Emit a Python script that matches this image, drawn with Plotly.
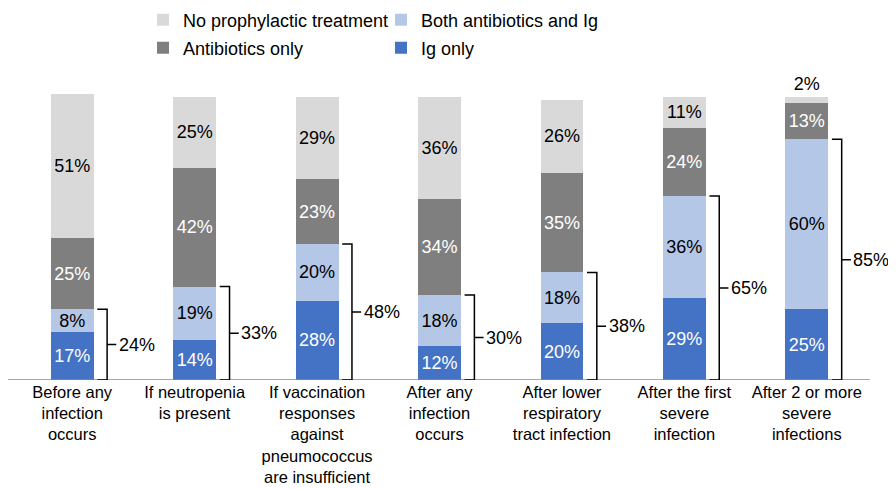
import plotly.graph_objects as go

categories = [
    "Before any<br>infection<br>occurs",
    "If neutropenia<br>is present",
    "If vaccination<br>responses<br>against<br>pneumococcus<br>are insufficient",
    "After any<br>infection<br>occurs",
    "After lower<br>respiratory<br>tract infection",
    "After the first<br>severe<br>infection",
    "After 2 or more<br>severe<br>infections",
]
ig_only = [17, 14, 28, 12, 20, 29, 25]
both = [8, 19, 20, 18, 18, 36, 60]
antibiotics_only = [25, 42, 23, 34, 35, 24, 13]
no_prophylactic = [51, 25, 29, 36, 26, 11, 2]
bracket_labels = [24, 33, 48, 30, 38, 65, 85]

FONT = "Liberation Sans, Arial, sans-serif"
W, H = 896, 489
OFF = 8  # page body margin offset
xs = list(range(len(categories)))

fig = go.Figure()

def add(name, vals, color, tcolor, legend, rank, positions=None):
    fig.add_trace(go.Bar(
        x=xs, y=vals, name=name, marker=dict(color=color, line=dict(width=0)),
        text=[f"{v}%" for v in vals],
        textposition=positions if positions else "inside",
        insidetextanchor="middle", constraintext="none",
        textfont=dict(color=tcolor, size=18, family=FONT),
        outsidetextfont=dict(color="black", size=18, family=FONT),
        cliponaxis=False, legend=legend, legendrank=rank,
    ))

add("Ig only", ig_only, "#4472C4", "white", "legend2", 2)
add("Both antibiotics and Ig", both, "#B4C7E7", "black", "legend", 2)
add("Antibiotics only", antibiotics_only, "#7F7F7F", "white", "legend2", 1)
pos = ["inside"] * (len(xs) - 1) + ["outside"]
add("No prophylactic treatment", no_prophylactic, "#D9D9D9", "black", "legend", 1, pos)

ml, mr, mt, mb = 11 - OFF, 28 + OFF, 94 - OFF, 109 + OFF
pw = W - ml - mr

shapes = [dict(type="line", xref="paper", yref="y", x0=-ml / pw, x1=1.002, y0=0, y1=0,
               line=dict(color="#888888", width=1.5))]
annotations = []
for i, (a, b, lab) in enumerate(zip(ig_only, both, bracket_labels)):
    top = a + b
    mid = top / 2
    xv = i + 0.285
    xl = i + 0.205
    xr = i + 0.36
    path = (f"M {xl},{top} L {xv},{top} L {xv},{mid} L {xr},{mid} "
            f"M {xv},{mid} L {xv},0 L {xl},0")
    shapes.append(dict(type="path", xref="x", yref="y", path=path,
                       line=dict(color="black", width=1.5)))
    annotations.append(dict(x=xr + 0.005, y=mid, xref="x", yref="y", text=f"{lab}%",
                            showarrow=False, xanchor="left", yanchor="middle",
                            font=dict(size=18, color="black", family=FONT)))

legend_common = dict(orientation="h", xref="container", yref="container",
                     xanchor="left", yanchor="middle", traceorder="normal",
                     entrywidth=193, entrywidthmode="pixels", itemwidth=30,
                     font=dict(size=18, family=FONT, color="black"),
                     bgcolor="rgba(0,0,0,0)")
lx = (159 - OFF - 16) / W

fig.update_layout(
    barmode="stack",
    bargap=0.65,
    width=W, height=H,
    margin=dict(l=ml, r=mr, t=mt, b=mb),
    paper_bgcolor="white", plot_bgcolor="white",
    font=dict(family=FONT, size=17, color="black"),
    shapes=shapes,
    annotations=annotations,
    showlegend=True,
    legend=dict(x=lx, y=1 - (20 - OFF) / H, **legend_common),
    legend2=dict(x=lx, y=1 - (48 - OFF) / H, **legend_common),
    xaxis=dict(tickmode="array", tickvals=xs, ticktext=categories,
               range=[-0.5, len(xs) - 0.5], showline=False, automargin=False,
               ticks="", showgrid=False, zeroline=False,
               tickfont=dict(size=16.5, family=FONT, color="black")),
    yaxis=dict(range=[0, 101], visible=False, showgrid=False, zeroline=False,
               automargin=False),
)

fig.write_html("out.html")
